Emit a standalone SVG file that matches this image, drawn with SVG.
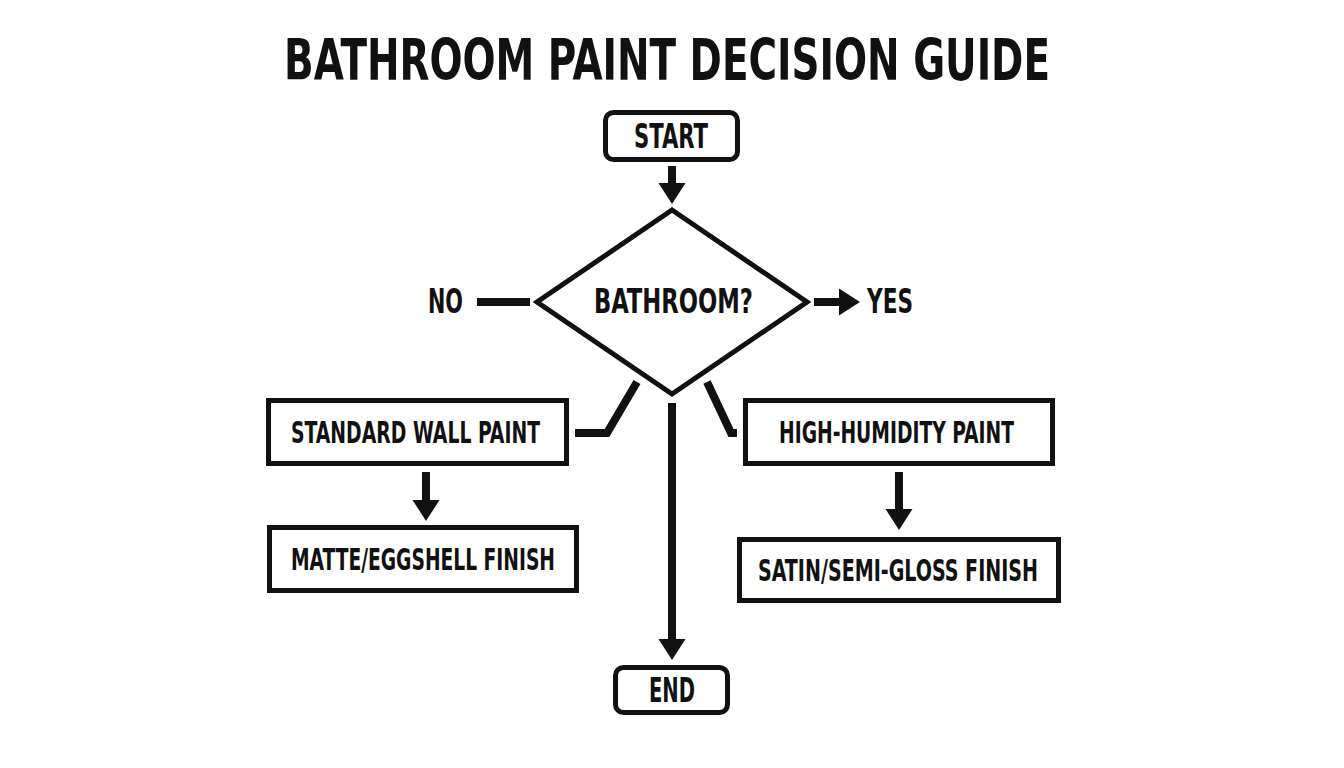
<svg xmlns="http://www.w3.org/2000/svg" width="1344" height="768" viewBox="0 0 1344 768">
  <style>
    .t { font-family: "Liberation Sans Narrow", "DejaVu Sans Condensed", "Liberation Sans", sans-serif; font-weight: bold; fill: #111; }
    .box { fill: #fff; stroke: #111; stroke-width: 5; }
    .con { fill: none; stroke: #111; stroke-width: 8; stroke-linejoin: miter; }
  </style>
  <defs>
    <marker id="ah" viewBox="0 -14 22 28" markerWidth="22" markerHeight="28" refX="1" refY="0" markerUnits="userSpaceOnUse" orient="auto">
      <path d="M0,-13.5 L21,0 L0,13.5 z" fill="#111"/>
    </marker>
  </defs>
  <rect width="1344" height="768" fill="#fff"/>

  <text class="t" x="284" y="80" font-size="57" textLength="766" lengthAdjust="spacingAndGlyphs">BATHROOM PAINT DECISION GUIDE</text>

  <g id="connectors">
    <line class="con" x1="672" y1="166" x2="672" y2="184" marker-end="url(#ah)"/>
    <line class="con" x1="477" y1="302" x2="530" y2="302"/>
    <line class="con" x1="814" y1="302" x2="840" y2="302" marker-end="url(#ah)"/>
    <polyline class="con" points="575,433 607,433 637,382"/>
    <polyline class="con" points="707,382 731,433 737,433"/>
    <line class="con" x1="672" y1="403" x2="672" y2="640" marker-end="url(#ah)"/>
    <line class="con" x1="426" y1="472" x2="426" y2="501" marker-end="url(#ah)"/>
    <line class="con" x1="899" y1="472" x2="899" y2="510" marker-end="url(#ah)"/>
  </g>

  <g id="start">
    <rect class="box" x="605.5" y="112.5" width="132" height="47" rx="8"/>
    <text class="t" x="634" y="148" font-size="33" textLength="74" lengthAdjust="spacingAndGlyphs">START</text>
  </g>

  <g id="decision">
    <polygon class="box" points="672,210 807,302 672,394 537,302"/>
    <text class="t" x="594" y="313" font-size="34" textLength="159" lengthAdjust="spacingAndGlyphs">BATHROOM?</text>
  </g>

  <g id="label-no">
    <text class="t" x="428" y="313" font-size="33" textLength="35" lengthAdjust="spacingAndGlyphs">NO</text>
  </g>
  <g id="label-yes">
    <text class="t" x="867" y="313" font-size="33" textLength="46" lengthAdjust="spacingAndGlyphs">YES</text>
  </g>

  <g id="standard-wall-paint">
    <rect class="box" x="268.5" y="400.5" width="298" height="63"/>
    <text class="t" x="291" y="443" font-size="31" textLength="249" lengthAdjust="spacingAndGlyphs">STANDARD WALL PAINT</text>
  </g>

  <g id="matte-eggshell">
    <rect class="box" x="269.5" y="527.5" width="307" height="63"/>
    <text class="t" x="291" y="570" font-size="31" textLength="264" lengthAdjust="spacingAndGlyphs">MATTE/EGGSHELL FINISH</text>
  </g>

  <g id="high-humidity-paint">
    <rect class="box" x="745.5" y="400.5" width="307" height="63"/>
    <text class="t" x="779" y="443" font-size="31" textLength="235" lengthAdjust="spacingAndGlyphs">HIGH-HUMIDITY PAINT</text>
  </g>

  <g id="satin-semigloss">
    <rect class="box" x="739.5" y="539.5" width="319" height="61"/>
    <text class="t" x="758" y="581" font-size="31" textLength="280" lengthAdjust="spacingAndGlyphs">SATIN/SEMI-GLOSS FINISH</text>
  </g>

  <g id="end">
    <rect class="box" x="615.5" y="667.5" width="112" height="45" rx="8"/>
    <text class="t" x="649" y="702" font-size="33" textLength="46" lengthAdjust="spacingAndGlyphs">END</text>
  </g>
</svg>
